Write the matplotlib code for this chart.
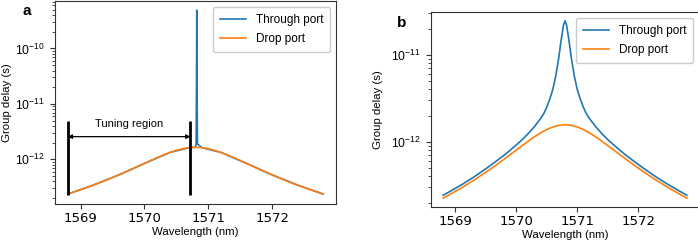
import matplotlib
matplotlib.use("Agg")
import matplotlib.pyplot as plt

plt.rcParams['font.family'] = ['Liberation Sans', 'DejaVu Sans']
plt.rcParams['mathtext.fontset'] = 'custom'
plt.rcParams['mathtext.rm'] = 'Liberation Sans'
plt.rcParams['axes.unicode_minus'] = False

# wavelength grid (nm)
wl = [1568.8, 1568.9, 1569.0, 1569.1, 1569.2, 1569.3, 1569.4, 1569.5, 1569.6, 1569.7,
      1569.8, 1569.9, 1570.0, 1570.1, 1570.2, 1570.3, 1570.4, 1570.5, 1570.6, 1570.7,
      1570.8, 1570.9, 1571.0, 1571.1, 1571.2, 1571.3, 1571.4, 1571.5, 1571.6, 1571.7,
      1571.8, 1571.9, 1572.0, 1572.1, 1572.2, 1572.3, 1572.4, 1572.5, 1572.6, 1572.7,
      1572.8]

# panel a, drop port (ps)
drop_a = [0.237, 0.259, 0.284, 0.311, 0.343, 0.379, 0.422, 0.470, 0.525, 0.589,
          0.664, 0.748, 0.845, 0.954, 1.075, 1.203, 1.333, 1.455, 1.557, 1.626,
          1.65, 1.626, 1.557, 1.455, 1.333, 1.203, 1.075, 0.954, 0.845, 0.748,
          0.664, 0.589, 0.525, 0.470, 0.422, 0.379, 0.343, 0.311, 0.284, 0.259,
          0.237]

# panel a, through port: follows drop port except a very sharp resonance
wl_thru_a = [1568.8, 1569.2, 1569.6, 1570.0, 1570.4, 1570.7, 1570.8, 1570.81,
             1570.815, 1570.82, 1570.825, 1570.83, 1570.9, 1571.2, 1571.6,
             1572.0, 1572.4, 1572.8]
thru_a = [0.237, 0.343, 0.525, 0.845, 1.333, 1.626, 1.65, 1.9,
          20.0, 490.0, 20.0, 1.9, 1.626, 1.333, 0.845,
          0.525, 0.343, 0.237]

# panel b (ps)
drop_b = [0.225, 0.246, 0.270, 0.295, 0.326, 0.360, 0.401, 0.447, 0.499, 0.560,
          0.631, 0.711, 0.803, 0.906, 1.021, 1.143, 1.266, 1.382, 1.479, 1.545,
          1.568, 1.545, 1.479, 1.382, 1.266, 1.143, 1.021, 0.906, 0.803, 0.711,
          0.631, 0.560, 0.499, 0.447, 0.401, 0.360, 0.326, 0.295, 0.270, 0.246,
          0.225]

wl_thru_b = [1568.8, 1568.9, 1569.0, 1569.1, 1569.2, 1569.3, 1569.4, 1569.5, 1569.6,
             1569.7, 1569.8, 1569.9, 1570.0, 1570.1, 1570.2, 1570.3, 1570.4,
             1570.45, 1570.5, 1570.55, 1570.6, 1570.65, 1570.7, 1570.725, 1570.75,
             1570.775, 1570.8, 1570.825, 1570.85, 1570.875, 1570.9, 1570.95,
             1571.0, 1571.05, 1571.1, 1571.15, 1571.2, 1571.3, 1571.4, 1571.5,
             1571.6, 1571.7, 1571.8, 1571.9, 1572.0, 1572.1, 1572.2, 1572.3,
             1572.4, 1572.5, 1572.6, 1572.7, 1572.8]
thru_b = [0.243, 0.266, 0.292, 0.32, 0.354, 0.392, 0.438, 0.49, 0.55,
          0.62, 0.70, 0.80, 0.92, 1.06, 1.25, 1.5, 1.85,
          2.1, 2.5, 3.1, 4.0, 5.8, 9.5, 13.0, 17.0,
          22.0, 24.5, 22.0, 17.0, 13.0, 9.5, 5.8,
          4.0, 3.1, 2.5, 2.1, 1.85, 1.5, 1.25, 1.06,
          0.92, 0.80, 0.70, 0.62, 0.55, 0.49, 0.438, 0.392,
          0.354, 0.32, 0.292, 0.266, 0.243]

tune_lo = 1568.8
tune_hi = 1570.72

ps = 1e-12
blue = '#1f77b4'
orange = '#ff7f0e'

fig = plt.figure(figsize=(6.98, 2.4), dpi=100)
ax1 = fig.add_axes([0.0788, 0.15, 0.4026, 0.846])
ax2 = fig.add_axes([0.6175, 0.1375, 0.384, 0.8125])

ax1.plot(wl_thru_a, [v * ps for v in thru_a], color=blue, lw=1.2, label='Through port')
ax1.plot(wl, [v * ps for v in drop_a], color=orange, lw=1.2, label='Drop port')

ax2.plot(wl_thru_b, [v * ps for v in thru_b], color=blue, lw=1.2, label='Through port')
ax2.plot(wl, [v * ps for v in drop_b], color=orange, lw=1.2, label='Drop port')

# tuning region markers
ax1.vlines([tune_lo, tune_hi], 2.3e-13, 4.9e-12, color='black', lw=2, zorder=3)
ax1.annotate('', xy=(tune_hi, 2.57e-12), xytext=(tune_lo, 2.57e-12),
             arrowprops=dict(arrowstyle='<|-|>', color='black', lw=0.9,
                             mutation_scale=6, shrinkA=0, shrinkB=0))
ax1.text((tune_lo + tune_hi) / 2, 4.3e-12, 'Tuning region', ha='center', va='center',
         fontsize=8)

for ax in (ax1, ax2):
    ax.set_yscale('log')
    ax.set_xticks([1569, 1570, 1571, 1572])
    ax.set_xlabel('Wavelength (nm)', fontsize=8.2, labelpad=2)
    ax.set_ylabel('Group delay (s)', fontsize=8.2)
    ax.tick_params(axis='y', labelsize=8.8, colors='#333333', labelcolor='black')
    ax.tick_params(axis='y', which='minor', colors='#333333')
    ax.tick_params(axis='x', labelsize=9.5, colors='#333333', labelcolor='black', pad=2)
    for lab in ax.get_xticklabels():
        lab.set_fontfamily('DejaVu Sans')
    for s in ax.spines.values():
        s.set_color('#333333')
    ax.legend(loc='upper right', fontsize=8.5, fancybox=True, framealpha=1,
              edgecolor='#cccccc', handlelength=2.2, borderpad=0.6, labelspacing=0.6)

ax1.yaxis.set_label_coords(-0.152, 0.5)
ax2.yaxis.set_label_coords(-0.178, 0.5)

fig.text(0.039, 0.955, 'a', fontsize=11, fontweight='bold', ha='center', va='center')
fig.text(0.576, 0.905, 'b', fontsize=11, fontweight='bold', ha='center', va='center')

fig.savefig('out.png', dpi=100)
